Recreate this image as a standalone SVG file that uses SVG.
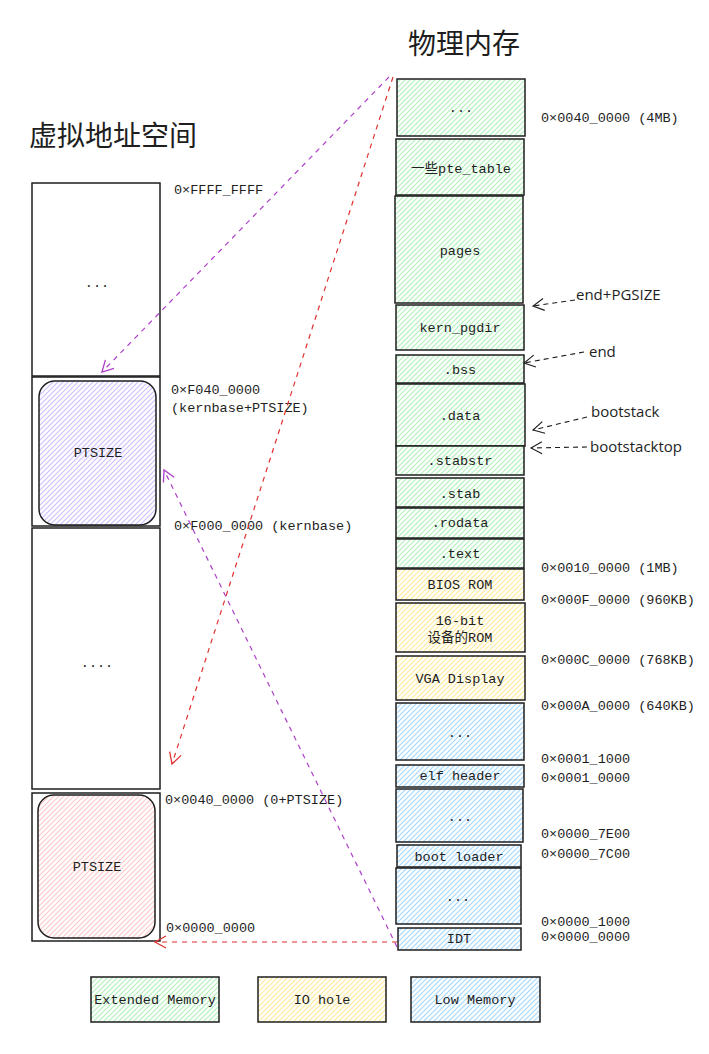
<svg xmlns="http://www.w3.org/2000/svg" width="709" height="1054" viewBox="0 0 709 1054">
<style>
.box{stroke:#1e1e1e;stroke-width:1.5}
.t{font-family:"Liberation Mono","DejaVu Sans Mono","Noto Sans CJK SC",monospace;font-size:13.5px;fill:#1e1e1e;text-anchor:middle;dominant-baseline:central}
.lbl{font-family:"Liberation Mono","DejaVu Sans Mono",monospace;font-size:13.5px;fill:#1e1e1e}
.title{font-family:"Noto Sans CJK SC",sans-serif;font-size:28px;fill:#1e1e1e}
.hand{font-family:"Open Sans","Liberation Sans",sans-serif;font-size:15px;fill:#1e1e1e}
.g{fill:url(#hg)}.y{fill:url(#hy)}.b{fill:url(#hb)}.w{fill:#fff}
.pur{stroke:#ae3ec9;stroke-width:1.2;fill:none;stroke-dasharray:5 5}
.red{stroke:#e03131;stroke-width:1.2;fill:none;stroke-dasharray:5 5}
.blk{stroke:#1e1e1e;stroke-width:1.1;fill:none;stroke-dasharray:5 4}
</style>
<defs>
<pattern id="hg" patternUnits="userSpaceOnUse" width="5" height="5"><rect width="5" height="5" fill="#fff"/><path d="M-1,1 l2,-2 M0,5 l5,-5 M4,6 l2,-2" stroke="#b2f2bb" stroke-width="1.2"/></pattern>
<pattern id="hy" patternUnits="userSpaceOnUse" width="5" height="5"><rect width="5" height="5" fill="#fff"/><path d="M-1,1 l2,-2 M0,5 l5,-5 M4,6 l2,-2" stroke="#ffec99" stroke-width="1.2"/></pattern>
<pattern id="hb" patternUnits="userSpaceOnUse" width="5" height="5"><rect width="5" height="5" fill="#fff"/><path d="M-1,1 l2,-2 M0,5 l5,-5 M4,6 l2,-2" stroke="#a5d8ff" stroke-width="1.2"/></pattern>
<pattern id="hp" patternUnits="userSpaceOnUse" width="5" height="5"><rect width="5" height="5" fill="#fff"/><path d="M-1,1 l2,-2 M0,5 l5,-5 M4,6 l2,-2" stroke="#d0bfff" stroke-width="1.2"/></pattern>
<pattern id="hr" patternUnits="userSpaceOnUse" width="5" height="5"><rect width="5" height="5" fill="#fff"/><path d="M-1,1 l2,-2 M0,5 l5,-5 M4,6 l2,-2" stroke="#ffc9c9" stroke-width="1.2"/></pattern>
<marker id="mp" markerWidth="14" markerHeight="14" refX="12" refY="7" orient="auto" markerUnits="userSpaceOnUse"><path d="M1,1 L12,7 L1,13" fill="none" stroke="#ae3ec9" stroke-width="1.3"/></marker>
<marker id="mr" markerWidth="14" markerHeight="14" refX="12" refY="7" orient="auto" markerUnits="userSpaceOnUse"><path d="M1,1 L12,7 L1,13" fill="none" stroke="#e03131" stroke-width="1.3"/></marker>
<marker id="mk" markerWidth="14" markerHeight="14" refX="12" refY="7" orient="auto" markerUnits="userSpaceOnUse"><path d="M1,1 L12,7 L1,13" fill="none" stroke="#1e1e1e" stroke-width="1.1"/></marker>
</defs>
<rect width="709" height="1054" fill="#fff"/>

<text class="title" x="408" y="54">物理内存</text>
<text class="title" x="29" y="146">虚拟地址空间</text>

<!-- virtual address space -->
<g id="v-top"><rect class="box w" x="32" y="183" width="128" height="193"/><text class="t" x="97" y="283">...</text></g>
<g id="v-kern"><rect class="box w" x="32" y="377" width="128" height="149"/><rect class="box" fill="url(#hp)" x="39" y="381" width="117" height="144" rx="16"/><text class="t" x="98" y="453">PTSIZE</text></g>
<g id="v-mid"><rect class="box w" x="32" y="528" width="128" height="261"/><text class="t" x="97" y="663">....</text></g>
<g id="v-low"><rect class="box w" x="32" y="793" width="128" height="148"/><rect class="box" fill="url(#hr)" x="38" y="795" width="117" height="143" rx="16"/><text class="t" x="97" y="867">PTSIZE</text></g>

<g id="v-labels">
<text class="lbl" x="174" y="194">0×FFFF_FFFF</text>
<text class="lbl" x="171" y="394">0×F040_0000</text>
<text class="lbl" x="171" y="412">(kernbase+PTSIZE)</text>
<text class="lbl" x="174" y="530">0×F000_0000 (kernbase)</text>
<text class="lbl" x="165" y="804">0×0040_0000 (0+PTSIZE)</text>
<text class="lbl" x="166" y="932">0×0000_0000</text>
</g>

<!-- physical memory -->
<g id="p1"><rect class="box g" x="397" y="79" width="128" height="57"/><text class="t" x="461" y="108">...</text></g>
<g id="p2"><rect class="box g" x="396" y="139" width="128" height="56"/><text class="t" x="461" y="169">一些pte_table</text></g>
<g id="p3"><rect class="box g" x="395" y="196" width="128" height="107"/><text class="t" x="460" y="251">pages</text></g>
<g id="p4"><rect class="box g" x="396" y="305" width="128" height="45"/><text class="t" x="460" y="328">kern_pgdir</text></g>
<g id="p5"><rect class="box g" x="396" y="355" width="128" height="28"/><text class="t" x="460" y="370">.bss</text></g>
<g id="p6"><rect class="box g" x="396" y="384" width="129" height="62"/><text class="t" x="460" y="416">.data</text></g>
<g id="p7"><rect class="box g" x="396" y="446" width="128" height="29"/><text class="t" x="460" y="461">.stabstr</text></g>
<g id="p8"><rect class="box g" x="396" y="478" width="128" height="29"/><text class="t" x="460" y="494">.stab</text></g>
<g id="p9"><rect class="box g" x="396" y="508" width="128" height="30"/><text class="t" x="460" y="523">.rodata</text></g>
<g id="p10"><rect class="box g" x="396" y="539" width="128" height="29"/><text class="t" x="460" y="554">.text</text></g>
<g id="p11"><rect class="box y" x="396" y="569" width="128" height="31"/><text class="t" x="460" y="585">BIOS ROM</text></g>
<g id="p12"><rect class="box y" x="396" y="603" width="129" height="49"/><text class="t" x="460" y="621">16-bit</text><text class="t" x="460" y="638">设备的ROM</text></g>
<g id="p13"><rect class="box y" x="396" y="656" width="129" height="44"/><text class="t" x="460" y="679">VGA Display</text></g>
<g id="p14"><rect class="box b" x="396" y="703" width="128" height="57"/><text class="t" x="460" y="733">...</text></g>
<g id="p15"><rect class="box b" x="396" y="765" width="128" height="22"/><text class="t" x="460" y="776">elf header</text></g>
<g id="p16"><rect class="box b" x="396" y="789" width="127" height="53"/><text class="t" x="460" y="817">...</text></g>
<g id="p17"><rect class="box b" x="397" y="845" width="124" height="22"/><text class="t" x="459" y="857">boot loader</text></g>
<g id="p18"><rect class="box b" x="396" y="868" width="125" height="56"/><text class="t" x="458" y="897">...</text></g>
<g id="p19"><rect class="box b" x="398" y="928" width="123" height="22"/><text class="t" x="459" y="939">IDT</text></g>

<g id="p-labels">
<text class="lbl" x="541" y="122">0×0040_0000 (4MB)</text>
<text class="lbl" x="541" y="572">0×0010_0000 (1MB)</text>
<text class="lbl" x="541" y="604">0×000F_0000 (960KB)</text>
<text class="lbl" x="541" y="664">0×000C_0000 (768KB)</text>
<text class="lbl" x="541" y="710">0×000A_0000 (640KB)</text>
<text class="lbl" x="541" y="763">0×0001_1000</text>
<text class="lbl" x="541" y="782">0×0001_0000</text>
<text class="lbl" x="541" y="838">0×0000_7E00</text>
<text class="lbl" x="541" y="858">0×0000_7C00</text>
<text class="lbl" x="541" y="926">0×0000_1000</text>
<text class="lbl" x="541" y="941">0×0000_0000</text>
</g>

<g id="annotations">
<text class="hand" x="576" y="300">end+PGSIZE</text>
<text class="hand" x="589" y="357">end</text>
<text class="hand" x="591" y="417">bootstack</text>
<text class="hand" x="590" y="452">bootstacktop</text>
</g>

<g id="connectors">
<path class="blk" d="M575,300 L533,306" marker-end="url(#mk)"/>
<path class="blk" d="M584,352 L524,363" marker-end="url(#mk)"/>
<path class="blk" d="M587,417 L533,430" marker-end="url(#mk)"/>
<path class="blk" d="M587,447 L531,448" marker-end="url(#mk)"/>
<path class="pur" d="M389,77 L102,372" marker-end="url(#mp)"/>
<path class="red" d="M393,77 L172,764" marker-end="url(#mr)"/>
<path class="pur" d="M397,947 L164,470" marker-end="url(#mp)"/>
<path class="red" d="M397,942 L155,942" marker-end="url(#mr)"/>
</g>

<g id="legend-ext"><rect class="box g" x="91" y="977" width="128" height="45"/><text class="t" x="155" y="1000">Extended Memory</text></g>
<g id="legend-io"><rect class="box y" x="258" y="977" width="128" height="45"/><text class="t" x="322" y="1000">IO hole</text></g>
<g id="legend-low"><rect class="box b" x="411" y="977" width="129" height="45"/><text class="t" x="475" y="1000">Low Memory</text></g>
</svg>
